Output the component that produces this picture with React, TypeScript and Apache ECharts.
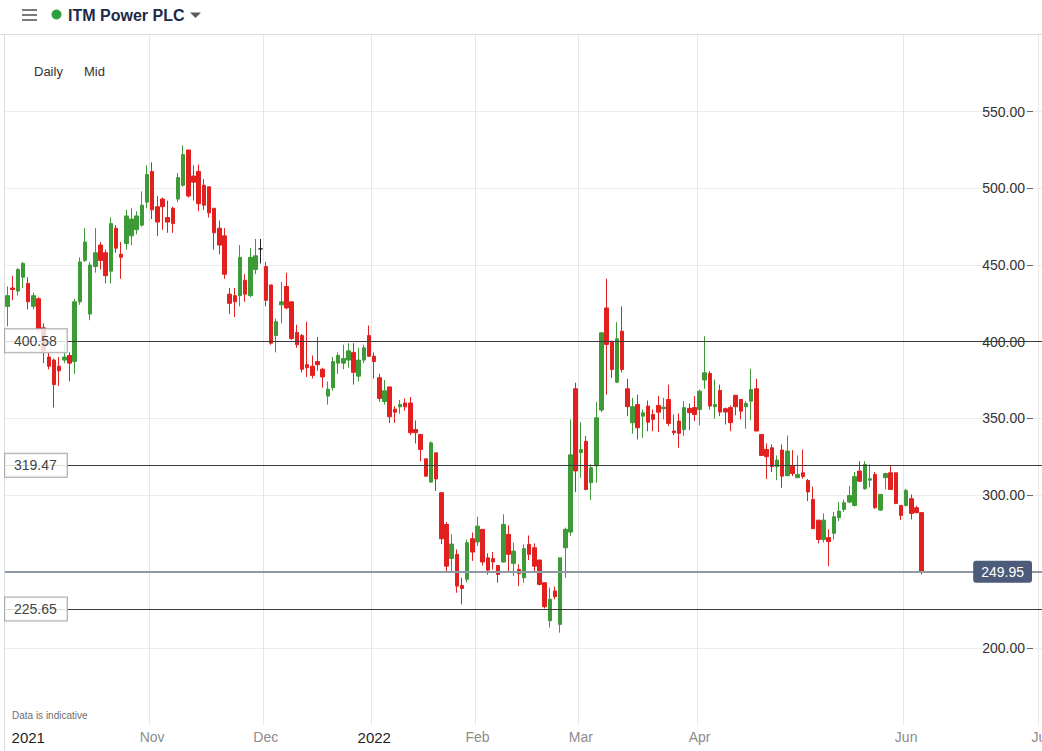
import React, { useEffect, useRef } from 'react';
import * as echarts from 'echarts';

const FONT = "'Liberation Sans', Arial, sans-serif";
const UP = '#3d9b37';
const DOWN = '#e1201f';

// trading calendar (UK) used for the category axis
const startDate = '2021-09-22';
const lastTradingDate = '2022-06-08';
const axisEndDate = '2022-07-01';
const holidays = ['2021-12-27', '2021-12-28', '2022-01-03', '2022-04-15', '2022-04-18', '2022-05-02', '2022-06-02', '2022-06-03'];

const opens = [
  423, 435, 433, 442, 438, 423, 428, 409, 390, 388,
  384, 388, 391, 387, 426, 453, 418, 449, 463, 458,
  446, 474, 457, 464, 469, 473, 476, 491, 511, 488,
  493, 481, 487, 493, 502, 525, 508, 511, 502, 501,
  487, 474, 469, 431, 430, 430, 440, 430, 447, 460.5,
  449, 437, 404, 424, 436, 426, 406, 404, 385, 384,
  387, 382, 364.5, 370, 386, 386, 388, 393, 377.5, 388,
  404, 390.5, 376.5, 361, 370.5, 356, 357.5, 360, 360, 342.7,
  339.5, 323.6, 308.4, 327.5, 301.5, 280.8, 258.6, 261.3, 241, 245,
  271.5, 269.4, 277.6, 259, 258.5, 254, 256.3, 274.3, 255.4, 251.5,
  246, 267.8, 265.6, 257.6, 242.8, 218, 237.4, 215.6, 265.6, 275.8,
  369.3, 327.6, 335, 308, 319, 355.4, 422, 400.3, 373.6, 406.8,
  369.3, 347.1, 359, 351.4, 358, 352.5, 358.4, 356.3, 362.3, 341.7,
  348.2, 342.7, 356.5, 357, 355.8, 375, 379.3, 357.6, 368.2, 356.3,
  357, 365, 362.3, 357.6, 361.2, 369.3, 339.5, 329.7, 330.8, 318.5,
  329.3, 312.6, 318.8, 311.3, 314.5, 309.5, 297.1, 283.6, 271, 272.2,
  275, 285.2, 290.6, 295.4, 293.2, 315.6, 304.1, 309.7, 313.4, 290.2,
  311.3, 314.5, 314.5, 293.2, 293.2, 297.6, 291.7, 288.5,
];
const closes = [
  430, 434, 447, 451, 426, 430, 408, 393, 384, 372,
  381, 390, 386, 426, 452, 465, 450, 458, 453, 443,
  477, 461, 455, 482, 480, 482, 489, 509, 486, 478,
  488, 478, 477, 507, 522, 495, 504, 490, 489, 484,
  471, 463, 444, 425, 426, 455, 431, 455, 456, 460.5,
  427, 399, 413, 426, 422, 402, 398, 382, 383, 378,
  385, 377, 369, 387, 391, 389, 394, 380, 388, 396,
  390.5, 387, 363, 368, 351, 354, 359, 357.5, 340.6, 340.6,
  329.7, 312.3, 334, 310.5, 271.5, 253.6, 268, 240.6, 239, 268.9,
  262.8, 279.7, 256.3, 251, 256.3, 248.2, 280.8, 261.3, 263.4, 248.8,
  265, 261.3, 253.6, 241.7, 227.2, 232, 233.7, 259, 277.6, 326.2,
  315.7, 329.7, 303.6, 317.8, 350.4, 405.8, 398.2, 381.8, 401.9, 381.8,
  357.6, 357.6, 343.8, 353.6, 347.5, 349.3, 354, 357.3, 346.7, 340.6,
  340.2, 357, 353.7, 352.5, 367.7, 379.7, 358, 359, 354.1, 354.1,
  347.2, 357.6, 354.7, 359.7, 368.8, 341.7, 325.8, 325, 318.5, 322.8,
  312.3, 328.7, 314, 313.4, 312, 302, 278, 271, 283.6, 269.6,
  285.8, 289.5, 295, 299.7, 312, 309, 320, 310.6, 291.7, 300.4,
  314, 303.6, 294.5, 286.7, 303, 288, 288.5, 249.95,
];
const lows = [
  410, 427, 430, 435, 421, 421, 406, 386, 382, 357,
  371, 386, 374, 379, 424, 452, 414, 445, 447, 438,
  438, 458, 441, 460, 463, 470, 475, 487, 480, 469,
  473, 471, 471, 491, 501, 494, 492, 485, 486, 481,
  460, 457, 441, 418, 416, 423, 426, 429, 444, 451,
  423, 398, 393, 412, 421, 401, 396, 380, 377, 376,
  381, 370, 359, 368, 379, 382, 383, 372, 374, 386,
  390, 376, 361, 359, 347, 347, 353, 355, 339, 333.6,
  322, 312, 308, 302.6, 268, 250.4, 250.4, 236.3, 228.7, 243,
  257, 266.7, 254, 248, 251.4, 242.8, 256, 249.4, 247.1, 240.6,
  242.8, 257.6, 250, 241, 226, 213.5, 232, 210.2, 246, 273.3,
  301.9, 311.3, 303, 296.7, 308, 354, 365.5, 376.4, 373, 380,
  351.4, 340, 336.2, 337.3, 341.6, 341.6, 341, 349.3, 345, 339,
  330.8, 338.4, 342.3, 348.2, 345.4, 369.3, 355.8, 349.7, 351.4, 346,
  341.6, 352, 349.3, 343.2, 348.8, 341.7, 325.8, 310.5, 315, 309.7,
  304.7, 312.3, 312.3, 311.3, 310.6, 296, 278, 268.4, 269, 253.6,
  271, 283, 289, 294.7, 292.5, 308.5, 303.4, 305, 291, 289.5,
  303.6, 303.6, 294, 283.6, 292.5, 284.1, 288, 248.2,
];
const highs = [
  436, 443, 448, 452, 442, 432, 429, 412, 393, 389,
  390, 398, 393, 428, 455, 474, 452, 474, 465, 460,
  481, 476, 465, 486, 487, 485, 498, 515, 517, 495,
  494, 492, 488, 510, 528, 525, 515, 515.5, 506, 501,
  487, 479, 474, 435, 435, 463, 444, 461, 467, 467,
  452, 437, 415, 439, 445, 426, 411, 405, 413, 391,
  403, 383, 374, 390, 393, 398, 399, 399, 396, 398,
  410.5, 393, 379, 375, 370.5, 358, 362, 363, 364, 348.6,
  339.5, 323.6, 335, 327.5, 302, 282.4, 274.3, 264.5, 246, 271,
  275.5, 285.8, 277.6, 262, 262.8, 254, 287.4, 280.2, 268.9, 254.8,
  267.8, 273.6, 268.5, 257.6, 242.8, 239.6, 240.3, 259, 278.7, 349.3,
  373.2, 347.5, 338.4, 320, 360.7, 406, 441, 400.3, 412.7, 423,
  375.8, 363.4, 365.5, 355.8, 361.6, 355.8, 364.6, 363.4, 372, 352.5,
  353.2, 361.2, 359.7, 364.5, 368.8, 403.6, 380.8, 375.3, 372, 357,
  358.4, 365, 362.3, 361.2, 382.3, 375.8, 339.5, 333.6, 333, 325.8,
  333, 338.8, 329.3, 325.8, 329.7, 310.5, 305.5, 283.6, 288, 277.6,
  288.9, 295.4, 297, 305.8, 315, 322, 322, 320, 315, 300.4,
  314.5, 318.8, 314.5, 293.2, 304, 300.4, 293, 288.9,
];

const levelValues = [400.58, 319.47, 225.65];
const lastPrice = 249.95;

const tickLabels = [
  { date: '2021-09-28', text: '2021', year: true, grid: false },
  { date: '2021-11-01', text: 'Nov', year: false, grid: true },
  { date: '2021-12-01', text: 'Dec', year: false, grid: true },
  { date: '2022-01-04', text: '2022', year: true, grid: true },
  { date: '2022-02-01', text: 'Feb', year: false, grid: true },
  { date: '2022-03-01', text: 'Mar', year: false, grid: true },
  { date: '2022-04-01', text: 'Apr', year: false, grid: true },
  { date: '2022-06-01', text: 'Jun', year: false, grid: true },
  { date: '2022-07-01', text: 'Jul', year: false, grid: true },
];

function buildCategories(): string[] {
  const out: string[] = [];
  const d = new Date(startDate + 'T00:00:00Z');
  const last = new Date(lastTradingDate + 'T00:00:00Z');
  const end = new Date(axisEndDate + 'T00:00:00Z');
  while (d <= end) {
    const s = d.toISOString().slice(0, 10);
    const wd = d.getUTCDay();
    if (d > last) out.push(s);
    else if (wd !== 0 && wd !== 6 && holidays.indexOf(s) < 0) out.push(s);
    d.setUTCDate(d.getUTCDate() + 1);
  }
  return out;
}

export default function App() {
  const ref = useRef<HTMLDivElement>(null);

  useEffect(() => {
    if (!ref.current) return;
    const chart = echarts.init(ref.current, undefined, { renderer: 'svg' });
    const categories = buildCategories();
    const labelMap: Record<string, { text: string; year: boolean; grid: boolean }> = {};
    tickLabels.forEach((t) => (labelMap[t.date] = t));
    const data = opens.map((o, i) => [o, closes[i], lows[i], highs[i]]);

    const levelLabel = {
      show: true,
      position: 'insideStart',
      distance: [0, 0],
      formatter: (p: any) => Number(p.value).toFixed(2),
      backgroundColor: 'rgba(255,255,255,0.82)',
      borderColor: '#a9a9a9',
      borderWidth: 1,
      padding: [5, 10, 4, 9],
      color: '#444',
      fontSize: 14,
      fontFamily: FONT,
    };

    const option: any = {
      animation: false,
      grid: { left: 5, right: -1, top: 35, bottom: 26, outerBoundsMode: 'none', containLabel: false },
      xAxis: {
        type: 'category',
        data: categories,
        boundaryGap: true,
        axisLine: { show: false },
        axisTick: { show: false },
        axisLabel: {
          interval: (_i: number, v: string) => !!labelMap[v],
          margin: 5,
          formatter: (v: string) => {
            const t = labelMap[v];
            if (!t) return '';
            return t.year ? `{y|${t.text}}` : `{m|${t.text}}`;
          },
          rich: {
            y: { color: '#1e1e1e', fontSize: 15, fontFamily: FONT },
            m: { color: '#8c8c8c', fontSize: 14, fontFamily: FONT },
          },
        },
        splitLine: {
          show: true,
          interval: (_i: number, v: string) => !!labelMap[v] && labelMap[v].grid,
          lineStyle: { color: '#e6e6e6', width: 1 },
        },
      },
      yAxis: {
        type: 'value',
        position: 'right',
        offset: -10,
        min: 150,
        max: 600,
        interval: 50,
        axisLine: { show: false },
        axisTick: { show: true, inside: true, length: 6, lineStyle: { color: '#666' } },
        axisLabel: {
          inside: true,
          margin: 8,
          showMinLabel: false,
          showMaxLabel: false,
          formatter: (v: number) => v.toFixed(2),
          color: '#333',
          fontSize: 14,
          fontFamily: FONT,
        },
        splitLine: { show: true, showMinLine: false, showMaxLine: false, lineStyle: { color: '#ececec' } },
      },
      series: [
        {
          type: 'candlestick',
          data,
          barWidth: 4,
          itemStyle: {
            color: UP,
            color0: DOWN,
            borderColor: UP,
            borderColor0: DOWN,
            borderColorDoji: '#222',
            borderWidth: 1,
          },
          markLine: {
            silent: true,
            animation: false,
            symbol: ['none', 'none'],
            data: [
              ...levelValues.map((v) => ({
                yAxis: v,
                lineStyle: { color: '#3a3a3a', width: 1, type: 'solid' },
                label: levelLabel,
              })),
              {
                yAxis: lastPrice,
                lineStyle: { color: '#8e99a4', width: 2, type: 'solid' },
                label: {
                  show: true,
                  position: 'insideEnd',
                  distance: [11, 0],
                  formatter: (p: any) => Number(p.value).toFixed(2),
                  backgroundColor: '#4b5b79',
                  borderRadius: 3,
                  padding: [4, 8, 4, 8],
                  color: '#ffffff',
                  fontSize: 14,
                  fontFamily: FONT,
                },
              },
            ],
          },
        },
      ],
      graphic: [
        { type: 'line', shape: { x1: 0, y1: 34.5, x2: 1042, y2: 34.5 }, style: { stroke: '#dddddd', lineWidth: 1 }, silent: true },
        { type: 'line', shape: { x1: 4.5, y1: 35, x2: 4.5, y2: 751 }, style: { stroke: '#dddddd', lineWidth: 1 }, silent: true },
        { type: 'line', shape: { x1: 22, y1: 10, x2: 37, y2: 10 }, style: { stroke: '#7a7a7a', lineWidth: 2 } },
        { type: 'line', shape: { x1: 22, y1: 15, x2: 37, y2: 15 }, style: { stroke: '#7a7a7a', lineWidth: 2 } },
        { type: 'line', shape: { x1: 22, y1: 20, x2: 37, y2: 20 }, style: { stroke: '#7a7a7a', lineWidth: 2 } },
        { type: 'circle', shape: { cx: 56.5, cy: 14.5, r: 5 }, style: { fill: '#2f9e3f' } },
        {
          type: 'text', x: 68, y: 15,
          style: { text: 'ITM Power PLC', fill: '#1b2a4a', font: `bold 16px ${FONT}`, verticalAlign: 'middle' },
        },
        { type: 'polygon', shape: { points: [[190, 12.5], [201, 12.5], [195.5, 18]] }, style: { fill: '#5a5a5a' } },
        { type: 'text', x: 34, y: 71, style: { text: 'Daily', fill: '#333', font: `13px ${FONT}`, verticalAlign: 'middle' } },
        { type: 'text', x: 84, y: 71, style: { text: 'Mid', fill: '#333', font: `13px ${FONT}`, verticalAlign: 'middle' } },
        { type: 'text', x: 12, y: 715, style: { text: 'Data is indicative', fill: '#6f6f6f', font: `10px ${FONT}`, verticalAlign: 'middle' } },
      ],
    };

    chart.setOption(option);
    return () => chart.dispose();
  }, []);

  return (
    <div
      ref={ref}
      style={{ position: 'absolute', left: 0, top: 0, width: 1042, height: 751, background: '#ffffff' }}
    />
  );
}
